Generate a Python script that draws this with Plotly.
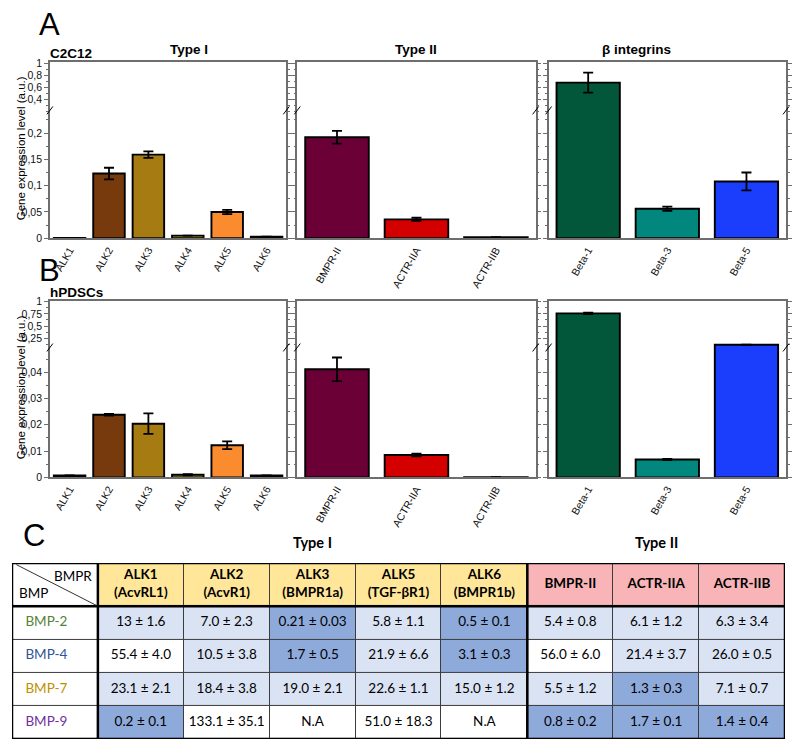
import plotly.graph_objects as go

# ---- panel A / B bar data ----
type1 = ["ALK1", "ALK2", "ALK3", "ALK4", "ALK5", "ALK6"]
type2 = ["BMPR-II", "ACTR-IIA", "ACTR-IIB"]
integrins = ["Beta-1", "Beta-3", "Beta-5"]

c2c12_type1 = [0.0006, 0.123, 0.159, 0.005, 0.050, 0.003]
c2c12_type1_err = [0, 0.011, 0.006, 0, 0.004, 0]
c2c12_type2 = [0.192, 0.036, 0.002]
c2c12_type2_err = [0.012, 0.003, 0]
c2c12_beta = [0.68, 0.056, 0.108]
c2c12_beta_err = [0.165, 0.004, 0.017]

hpdsc_type1 = [0.0007, 0.0238, 0.0204, 0.0010, 0.0122, 0.0007]
hpdsc_type1_err = [0, 0.0003, 0.0039, 0.0002, 0.0015, 0]
hpdsc_type2 = [0.0411, 0.0085, 0.0001]
hpdsc_type2_err = [0.0045, 0.0005, 0]
hpdsc_beta = [0.76, 0.0068, 0.115]
hpdsc_beta_err = [0.015, 0.0002, 0.002]

type1_colors = ["#222222", "#773a0c", "#a67c12", "#b3a01e", "#fb8b2f", "#222222"]
type2_colors = ["#6a0036", "#d40000", "#222222"]
beta_colors = ["#02573a", "#02877f", "#1b3dfc"]

# ticks of the broken axes
a_low_vals = [0, 0.05, 0.1, 0.15, 0.2]
a_low_text = ["0", "0,05", "0,1", "0,15", "0,2"]
a_up_vals = [0.4, 0.6, 0.8, 1]
a_up_text = ["0,4", "0,6", "0,8", "1"]
b_low_vals = [0, 0.01, 0.02, 0.03, 0.04]
b_low_text = ["0", "0,01", "0,02", "0,03", "0,04"]
b_up_vals = [0.25, 0.5, 0.75, 1]
b_up_text = ["0,25", "0,5", "0,75", "1"]

# ---- panel C table ----
receptors = ["ALK1<br>(AcvRL1)", "ALK2<br>(AcvR1)", "ALK3<br>(BMPR1a)", "ALK5<br>(TGF-βR1)",
             "ALK6<br>(BMPR1b)", "BMPR-II", "ACTR-IIA", "ACTR-IIB"]
ligands = ["BMP-2", "BMP-4", "BMP-7", "BMP-9"]
ligand_colors = ["#548235", "#2f5597", "#bf9000", "#7030a0"]
kd_values = [
    ["13 ± 1.6", "7.0 ± 2.3", "0.21 ± 0.03", "5.8 ± 1.1", "0.5 ± 0.1", "5.4 ± 0.8", "6.1 ± 1.2", "6.3 ± 3.4"],
    ["55.4 ± 4.0", "10.5 ± 3.8", "1.7 ± 0.5", "21.9 ± 6.6", "3.1 ± 0.3", "56.0 ± 6.0", "21.4 ± 3.7", "26.0 ± 0.5"],
    ["23.1 ± 2.1", "18.4 ± 3.8", "19.0 ± 2.1", "22.6 ± 1.1", "15.0 ± 1.2", "5.5 ± 1.2", "1.3 ± 0.3", "7.1 ± 0.7"],
    ["0.2 ± 0.1", "133.1 ± 35.1", "N.A", "51.0 ± 18.3", "N.A", "0.8 ± 0.2", "1.7 ± 0.1", "1.4 ± 0.4"],
]
# 0 white, 1 light blue, 2 dark blue, 3 type I header, 4 type II header
cell_codes = [
    [0, 3, 3, 3, 3, 3, 4, 4, 4],
    [0, 1, 1, 2, 1, 2, 1, 1, 1],
    [0, 0, 1, 2, 1, 2, 0, 1, 1],
    [0, 1, 1, 1, 1, 1, 1, 2, 1],
    [0, 2, 0, 0, 0, 0, 2, 2, 2],
]
n_type1_cols = 5

# the page body has an 8px margin, so the figure is drawn 8px smaller on each side
PAD = 8
W, H = 800 - 2 * PAD, 754 - 2 * PAD
FONT = "Liberation Sans, Arial, sans-serif"
TFONT = "Lato, Open Sans, sans-serif"


def px(v):
    return (v - PAD) / W


def py(v):
    return 1 - (v - PAD) / H


col_px = [(50, 287), (298, 537), (550, 788)]
row_px = [(57, 106, 236), (300, 347, 479)]

rows = [
    dict(data=[(type1, c2c12_type1, c2c12_type1_err, type1_colors),
               (type2, c2c12_type2, c2c12_type2_err, type2_colors),
               (integrins, c2c12_beta, c2c12_beta_err, beta_colors)],
         low=([0, 0.243], a_low_vals, a_low_text, 0.025),
         up=([0.2, 1.015], a_up_vals, a_up_text, 0.1)),
    dict(data=[(type1, hpdsc_type1, hpdsc_type1_err, type1_colors),
               (type2, hpdsc_type2, hpdsc_type2_err, type2_colors),
               (integrins, hpdsc_beta, hpdsc_beta_err, beta_colors)],
         low=([0, 0.0494], b_low_vals, b_low_text, 0.005),
         up=([0.03, 1.01], b_up_vals, b_up_text, 0.125)),
]

fig = go.Figure()
layout = {}
shapes = []
annotations = []
AX = "#6e6e6e"


def name(k):
    return "" if k == 1 else str(k)


k = 1
for r, row in enumerate(rows):
    top, brk, bot = row_px[r]
    low_top = row["low"][0][1]
    for c, (cats, vals, errs, colors) in enumerate(row["data"]):
        x0, x1 = col_px[c]
        for seg in ("low", "up"):
            yr, tv, tt, mdt = row[seg]
            kk = k if seg == "low" else k + 1
            if seg == "low":
                yv = vals
            else:
                # only bars that break through the lower segment continue above the break
                yv = [v if v > low_top else None for v in vals]
            fig.add_trace(go.Bar(
                x=cats, y=yv, width=0.8,
                error_y=dict(type="data", array=errs, color="black", thickness=1.8, width=5),
                marker=dict(color=colors, line=dict(color="black", width=1.9)),
                xaxis="x" + name(kk), yaxis="y" + name(kk), showlegend=False,
            ))
            xa = dict(domain=[px(x0), px(x1)], anchor="y" + name(kk), type="category",
                      range=[-0.5, len(cats) - 0.5], showline=True, linecolor=AX, linewidth=1.5,
                      ticks="", showgrid=False, zeroline=False)
            if seg == "low":
                xa.update(tickangle=-60, tickfont=dict(size=10.5, color="#111", family=FONT))
                ydom = [py(bot), py(brk)]
            else:
                xa.update(side="top", showticklabels=False, matches="x" + name(k))
                # overlap the lower segment by a pixel so no seam shows through the bars
                ydom = [py(brk + 1.5), py(top)]
            ya = dict(domain=ydom, anchor="x" + name(kk), range=yr, tickmode="array",
                      tickvals=tv, ticktext=tt, showline=True, mirror="ticks", linecolor=AX,
                      linewidth=1.5, ticks="outside", ticklen=4, tickcolor=AX, showgrid=False,
                      zeroline=False, showticklabels=(c == 0),
                      tickfont=dict(size=10.5, color="#111", family=FONT),
                      minor=dict(tickmode="linear", tick0=0, dtick=mdt, ticks="outside",
                                 ticklen=2, tickcolor=AX))
            layout["xaxis" + name(kk)] = xa
            layout["yaxis" + name(kk)] = ya
        # break marks on both sides of the frame
        for xe in (x0, x1):
            shapes.append(dict(type="line", xref="paper", yref="paper",
                               x0=px(xe - 3), y0=py(brk + 4), x1=px(xe + 3), y1=py(brk - 4),
                               line=dict(color="black", width=1)))
        k += 2


def note(text, x, y, size, family=FONT, **kw):
    d = dict(text=text, x=x, y=y, xref="paper", yref="paper", showarrow=False,
             yanchor="middle", font=dict(size=size, family=family, color="black"))
    d.update(kw)
    annotations.append(d)


# titles of panels A and B
for r, (letter, cell, ly) in enumerate([("A", "C2C12", 19), ("B", "hPDSCs", 269)]):
    top, brk, bot = row_px[r]
    note(letter, px(37), py(ly), 31)
    note("<b>%s</b>" % cell, px(48), py(top - 9), 13.5, xanchor="left")
    note("Gene expression level (a.u.)", px(13), py((top + bot) / 2 - 2), 11.5, textangle=-90)
for c, t in enumerate(["Type I", "Type II", "β integrins"]):
    x0, x1 = col_px[c]
    note("<b>%s</b>" % t, px((x0 + x1) / 2 + (6 if c == 2 else 0)), py(44), 13.5)

# ---- table as a heatmap on its own axes ----
hh = 44 / 33.7
ncol = len(receptors) + 1
x_edges = list(range(ncol + 1))
y_edges = [0] + [hh + i for i in range(len(ligands) + 1)]
tk = 13
fig.add_trace(go.Heatmap(
    z=cell_codes, x=x_edges, y=y_edges, xgap=1, ygap=1, zmin=-0.5, zmax=4.5,
    colorscale=[[0, "#ffffff"], [0.2, "#ffffff"], [0.2, "#dae3f3"], [0.4, "#dae3f3"],
                [0.4, "#8eaadb"], [0.6, "#8eaadb"], [0.6, "#ffe699"], [0.8, "#ffe699"],
                [0.8, "#f8b4b6"], [1, "#f8b4b6"]],
    showscale=False, hoverinfo="skip", xaxis="x%d" % tk, yaxis="y%d" % tk,
))
tx, ty, tt, tc = [], [], [], []
for j, rec in enumerate(receptors):
    tx.append(j + 1.5)
    ty.append(hh / 2)
    tt.append("<br>".join("<b>%s</b>" % p for p in rec.split("<br>")))
    tc.append("black")
for i, lig in enumerate(ligands):
    tx.append(0.5 - 0.1)
    ty.append(hh + i + 0.5)
    tt.append(lig)
    tc.append(ligand_colors[i])
    for j, v in enumerate(kd_values[i]):
        tx.append(j + 1.5)
        ty.append(hh + i + 0.5)
        tt.append(v)
        tc.append("black")
fig.add_trace(go.Scatter(x=tx, y=ty, text=tt, mode="text", hoverinfo="skip", showlegend=False,
                         textfont=dict(size=13.5, color=tc, family=TFONT),
                         xaxis="x%d" % tk, yaxis="y%d" % tk))
layout["xaxis%d" % tk] = dict(domain=[px(12), px(787)], anchor="y%d" % tk, range=[0, ncol],
                              visible=False)
layout["yaxis%d" % tk] = dict(domain=[py(745), py(566)], anchor="x%d" % tk,
                              range=[y_edges[-1], 0], visible=False)
xr, yr_ = "x%d" % tk, "y%d" % tk
shapes.append(dict(type="rect", xref=xr, yref=yr_, x0=0, x1=ncol, y0=0, y1=y_edges[-1],
                   fillcolor="#3c3c3c", line=dict(width=0), layer="below"))
for lx in (1, 1 + n_type1_cols):
    shapes.append(dict(type="line", xref=xr, yref=yr_, x0=lx, x1=lx, y0=0, y1=y_edges[-1],
                       line=dict(color="black", width=2.5)))
shapes.append(dict(type="line", xref=xr, yref=yr_, x0=0, x1=ncol, y0=hh, y1=hh,
                   line=dict(color="black", width=2.5)))
shapes.append(dict(type="rect", xref=xr, yref=yr_, x0=0, x1=ncol, y0=0, y1=y_edges[-1],
                   line=dict(color="black", width=2.5)))
shapes.append(dict(type="line", xref=xr, yref=yr_, x0=0.05, x1=0.98, y0=0.05, y1=hh - 0.03,
                   line=dict(color="#333", width=1)))
annotations.append(dict(text="BMPR", x=0.95, y=0.08, xref=xr, yref=yr_, xanchor="right",
                        yanchor="top", showarrow=False, font=dict(size=13.5, family=TFONT, color="black")))
annotations.append(dict(text="BMP", x=0.06, y=hh - 0.1, xref=xr, yref=yr_, xanchor="left",
                        yanchor="bottom", showarrow=False, font=dict(size=13.5, family=TFONT, color="black")))
annotations.append(dict(text="<b>Type I</b>", x=1 + n_type1_cols / 2, y=py(545), xref=xr,
                        yref="paper", yanchor="middle", showarrow=False,
                        font=dict(size=14.5, family=TFONT, color="black")))
annotations.append(dict(text="<b>Type II</b>", x=(1 + n_type1_cols + ncol) / 2, y=py(545), xref=xr,
                        yref="paper", yanchor="middle", showarrow=False,
                        font=dict(size=14.5, family=TFONT, color="black")))
note("C", px(21), py(538), 31)

fig.update_layout(width=W, height=H, margin=dict(l=0, r=0, t=0, b=0), plot_bgcolor="white",
                  paper_bgcolor="white", bargap=0.2, shapes=shapes, annotations=annotations,
                  font=dict(family=FONT), **layout)
fig.write_html("out.html")
